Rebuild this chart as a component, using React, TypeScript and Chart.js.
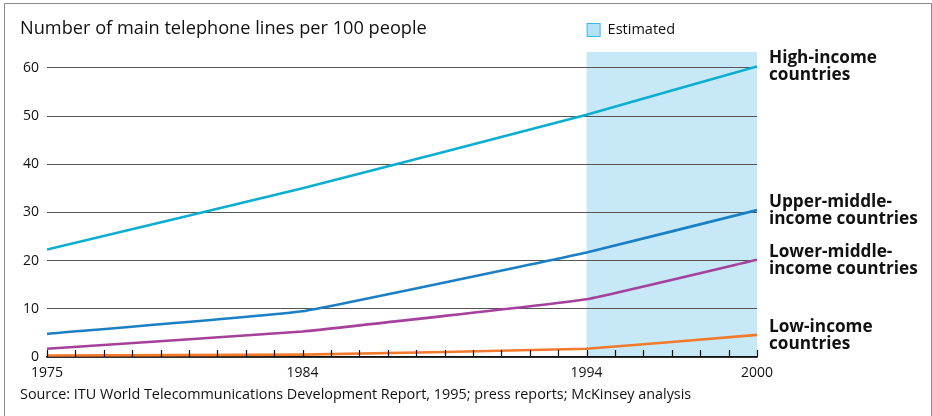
import React, { useEffect, useRef } from "react";
import { Chart, registerables } from "chart.js";
Chart.register(...registerables);

const years = [1975, 1984, 1994, 2000];
const highIncome = [22.3, 35.0, 50.3, 60.3];
const upperMiddle = [4.8, 9.5, 21.7, 30.5];
const lowerMiddle = [1.7, 5.3, 12.0, 20.2];
const lowIncome = [0.3, 0.5, 1.7, 4.6];
const xTickLabels = [1975, 1984, 1994, 2000];
const yTickValues = [0, 10, 20, 30, 40, 50, 60];
const estimatedRange = [1994, 2000];
const seriesLabels = [
  ["High-income", "countries"],
  ["Upper-middle-", "income countries"],
  ["Lower-middle-", "income countries"],
  ["Low-income", "countries"],
];
const seriesColors = ["#0aaed0", "#1b7fc3", "#a5409b", "#f27a2c"];
const titleText = "Number of main telephone lines per 100 people";
const sourceText =
  "Source: ITU World Telecommunications Development Report, 1995; press reports; McKinsey analysis";
const legendText = "Estimated";

const FONT = "'Open Sans', 'DejaVu Sans', sans-serif";

const decorPlugin = {
  id: "decor",
  beforeDraw(chart: any) {
    const { ctx, chartArea, scales } = chart;
    const x = scales.x;
    ctx.save();
    ctx.fillStyle = "#ffffff";
    ctx.fillRect(0, 0, chart.width, chart.height);
    // frame
    ctx.strokeStyle = "#8a8a8a";
    ctx.lineWidth = 1;
    ctx.beginPath();
    ctx.moveTo(4.5, chart.height);
    ctx.lineTo(4.5, 3.5);
    ctx.lineTo(931.5, 3.5);
    ctx.lineTo(931.5, chart.height);
    ctx.stroke();
    // estimated region
    const x0 = x.getPixelForValue(estimatedRange[0]);
    const x1 = x.getPixelForValue(estimatedRange[1]);
    ctx.fillStyle = "#c6e8f7";
    ctx.fillRect(x0, chartArea.top, x1 - x0, chartArea.bottom - chartArea.top);
    // legend
    ctx.fillStyle = "#b3e1f6";
    ctx.fillRect(x0 + 0.5, 23.5, 13, 13);
    ctx.strokeStyle = "#3cb6e6";
    ctx.strokeRect(x0 + 0.5, 23.5, 13, 13);
    ctx.fillStyle = "#111";
    ctx.font = `14.5px ${FONT}`;
    ctx.textBaseline = "middle";
    ctx.textAlign = "left";
    ctx.fillText(legendText, x0 + 21, 30);
    // title
    ctx.font = `18.2px ${FONT}`;
    ctx.fillText(titleText, 20, 29);
    // source
    ctx.font = `14.4px ${FONT}`;
    ctx.fillText(sourceText, 20, 395);
    ctx.restore();
  },
  afterDatasetsDraw(chart: any) {
    const { ctx, chartArea, scales } = chart;
    const x = scales.x;
    const y = scales.y;
    ctx.save();
    // minor year ticks
    ctx.strokeStyle = "#111";
    ctx.lineWidth = 1.2;
    ctx.beginPath();
    for (let yr = years[0]; yr <= years[years.length - 1]; yr++) {
      const px = Math.round(x.getPixelForValue(yr)) + 0.5;
      ctx.moveTo(px, chartArea.bottom - 7);
      ctx.lineTo(px, chartArea.bottom);
    }
    ctx.stroke();
    // series end labels
    ctx.fillStyle = "#111";
    ctx.font = `bold 17.2px ${FONT}`;
    ctx.textAlign = "left";
    ctx.textBaseline = "middle";
    chart.data.datasets.forEach((ds: any, i: number) => {
      const last = ds.data[ds.data.length - 1];
      const py = y.getPixelForValue(last.y);
      const lines = seriesLabels[i];
      ctx.fillText(lines[0], x.right + 12, py - 8);
      ctx.fillText(lines[1], x.right + 12, py + 9);
    });
    ctx.restore();
  },
};

export default function App() {
  const ref = useRef<HTMLCanvasElement>(null);
  useEffect(() => {
    const seriesData = [highIncome, upperMiddle, lowerMiddle, lowIncome];
    const chart = new Chart(ref.current as HTMLCanvasElement, {
      type: "line",
      data: {
        datasets: seriesData.map((vals, i) => ({
          label: seriesLabels[i].join(" "),
          data: years.map((yr, j) => ({ x: yr, y: vals[j] })),
          borderColor: seriesColors[i],
          borderWidth: 2.6,
          pointRadius: 0,
          tension: 0.08,
          fill: false,
        })),
      },
      options: {
        animation: false,
        responsive: false,
        devicePixelRatio: 1,
        layout: { padding: { left: 0, right: 175, top: 52, bottom: 34 } },
        plugins: { legend: { display: false }, tooltip: { enabled: false } },
        scales: {
          x: {
            type: "linear",
            min: years[0],
            max: years[years.length - 1],
            afterBuildTicks: (s: any) => {
              s.ticks = xTickLabels.map((v) => ({ value: v }));
            },
            afterFit: (s: any) => {
              s.height = 25;
            },
            ticks: {
              autoSkip: false,
              maxRotation: 0,
              padding: 8,
              color: "#111",
              font: { size: 14, family: FONT },
              callback: (v: any) => String(v),
            },
            grid: { display: true, drawOnChartArea: false, drawTicks: false },
            border: { display: true, color: "#111", width: 1.5 },
          },
          y: {
            min: 0,
            max: 63.3,
            afterBuildTicks: (s: any) => {
              s.ticks = yTickValues.map((v) => ({ value: v }));
            },
            afterFit: (s: any) => {
              s.width = 47;
            },
            ticks: {
              padding: 8,
              color: "#111",
              font: { size: 14, family: FONT },
              callback: (v: any) => String(v),
            },
            grid: { color: "#555", lineWidth: 1, drawTicks: false },
            border: { display: false },
          },
        },
      },
      plugins: [decorPlugin],
    } as any);
    return () => chart.destroy();
  }, []);
  return (
    <div
      style={{
        position: "fixed",
        left: 0,
        top: 0,
        width: 932,
        height: 416,
        background: "#fff",
      }}
    >
      <canvas ref={ref} width={932} height={416} style={{ display: "block" }} />
    </div>
  );
}
